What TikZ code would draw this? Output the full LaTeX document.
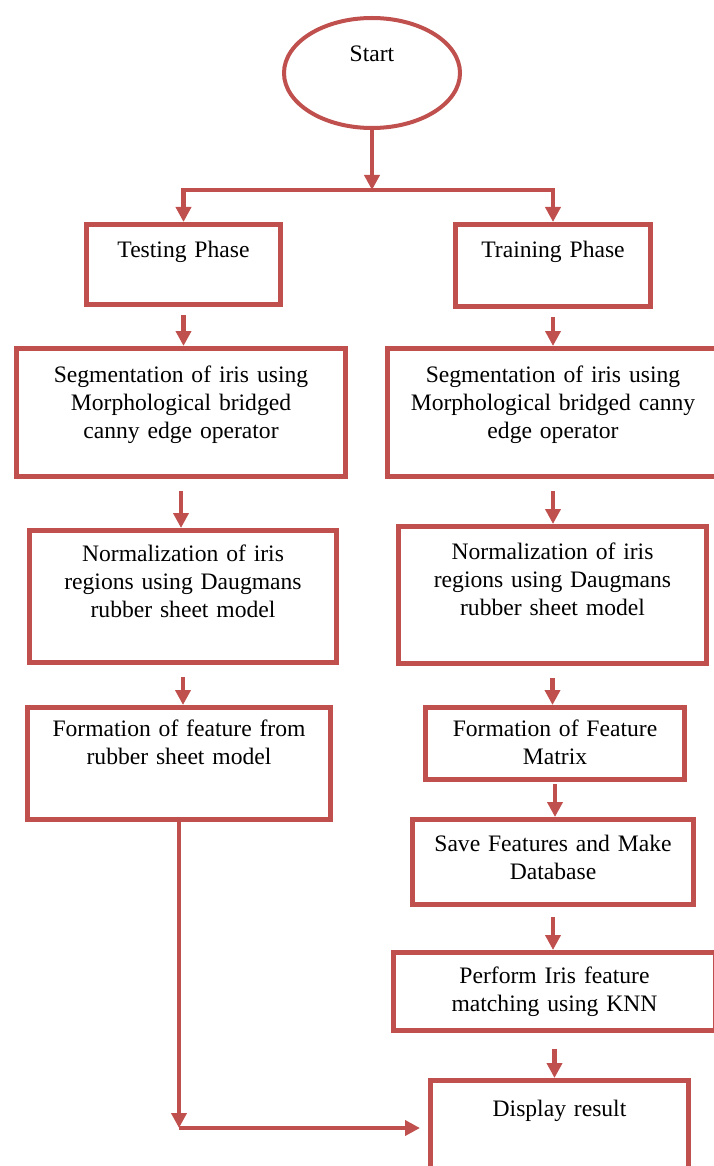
\documentclass[tikz,border=0pt]{standalone}
\usepackage{fontspec}
\setmainfont{Liberation Serif}
\usetikzlibrary{arrows.meta,shapes.geometric}
\definecolor{boxred}{RGB}{192,80,77}

\begin{document}
\begin{tikzpicture}[x=0.5pt,y=-0.5pt,
  font=\fontsize{11.8pt}{14pt}\selectfont,
  box/.style={draw=boxred,line width=2.5pt,inner sep=0pt,align=center,anchor=north west},
  arr/.style={draw=boxred,line width=2.2pt,-{Triangle[width=7.5pt,length=7.5pt]}}]
  \useasboundingbox (0,0) rectangle (713,1166);
  % start and the two phases
  \node[ellipse,draw=boxred,line width=2pt,inner sep=0pt,minimum width=88pt,minimum height=55pt,
    text height=8pt,text depth=19pt] (start) at (372,73) {Start};
  \node[box,text width=97pt,text height=16.5pt,text depth=23.5pt] (test) at (84,222) {Testing Phase};
  \node[box,text width=97.5pt,text height=16.5pt,text depth=24.5pt] (train) at (453,222) {Training Phase};
  % testing side
  \node[box,text width=164.5pt,text height=17pt,text depth=47pt] (segL) at (14,346)
    {Segmentation of iris using\\Morphological bridged\\canny edge operator};
  \node[box,text width=153.5pt,text height=15.5pt,text depth=50.5pt] (normL) at (27,528)
    {Normalization of iris\\regions using Daugmans\\rubber sheet model};
  \node[box,text width=151.5pt,text height=14.5pt,text depth=41.5pt] (formL) at (25,705)
    {Formation of feature from\\rubber sheet model};
  % training side
  \node[box,text width=165.5pt,text height=17pt,text depth=47pt] (segR) at (385,346)
    {Segmentation of iris using\\Morphological bridged canny\\edge operator};
  \node[box,text width=154pt,text height=16.5pt,text depth=52pt] (normR) at (396,524)
    {Normalization of iris\\regions using Daugmans\\rubber sheet model};
  \node[box,text width=129.5pt,text height=14.5pt,text depth=21.5pt] (formR) at (423,705)
    {Formation of Feature\\Matrix};
  \node[box,text width=140.5pt,text height=16pt,text depth=26.5pt] (save) at (410,817)
    {Save Features and Make\\Database};
  \node[box,text width=161pt,text height=15.5pt,text depth=23.5pt] (knn) at (391,950)
    {Perform Iris feature\\matching using KNN};
  \node[box,text width=129pt,text height=18pt,text depth=33pt] (disp) at (428,1078) {Display result};
  % arrows
  \coordinate (split) at (374,190);
  \draw[arr] (start.south) -- (start.south |- split);
  \draw[arr] (start.south |- split) -| (test.north);
  \draw[arr] (start.south |- split) -| (train.north);
  \foreach \a/\b/\g in {test/segL/4,segL/normL/6,normL/formL/6,train/segR/4,segR/normR/6,
                        normR/formR/6,formR/save/1,save/knn/5,knn/disp/8}
    \draw[arr] ([yshift=-\g pt]\a.south) -- (\a.south |- \b.north);
  \coordinate (corner) at (179,1128);
  \draw[arr] (formL.south) -- (formL.south |- corner);
  \draw[arr] (formL.south |- corner) -- ([xshift=-4pt]disp.west |- corner);
\end{tikzpicture}
\end{document}
